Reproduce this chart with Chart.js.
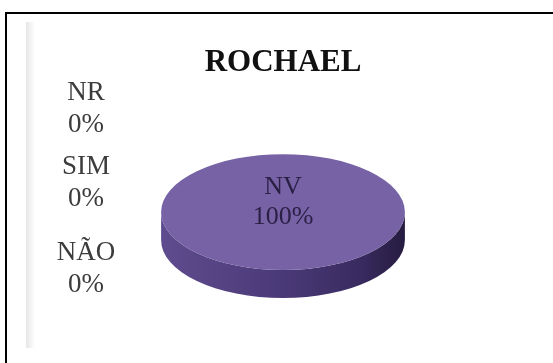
<!DOCTYPE html>
<html>
<head>
<meta charset="utf-8">
<script src="https://cdn.jsdelivr.net/npm/chart.js@4"></script>
<style>
  html, body { margin: 0; padding: 0; background: #fff; }
  #wrap { position: relative; width: 553px; height: 363px; overflow: hidden; }
  #frame { position: absolute; left: 5px; top: 12px; right: -4px; bottom: -4px;
           border-left: 2px solid #000; border-top: 2px solid #000; }
  #strip { position: absolute; left: 26px; top: 22px; width: 9px; height: 326px;
           background: linear-gradient(to right, #e6e6e6, #ffffff); }
  #myChart { position: absolute; left: 0; top: 0; }
</style>
</head>
<body>
<div id="wrap">
  <div id="frame"></div>
  <div id="strip"></div>
  <canvas id="myChart" width="553" height="363"></canvas>
</div>
<script>
let labels = ['NÃO', 'SIM', 'NR', 'NV'];
let values = [0, 0, 0, 100];
let colorHex = ['#4F81BD', '#C0504D', '#9BBB59', '#7662A5'];

let TILT = 0.475;   // vertical squash of the disc
let DEPTH = 28;     // thickness of the disc side

// 3D look: draw the side band, then squash the arcs
let pie3d = {
  id: 'pie3d',
  beforeDatasetsDraw(chart) {
    let arc = chart.getDatasetMeta(0).data[0];
    let cx = arc.x, cy = arc.y, rx = arc.outerRadius, ry = rx * TILT;
    let ctx = chart.ctx;
    ctx.save();
    let g = ctx.createLinearGradient(cx - rx, 0, cx + rx, 0);
    g.addColorStop(0, '#5f4c8e');
    g.addColorStop(0.45, '#4c3b7a');
    g.addColorStop(0.8, '#3a2c62');
    g.addColorStop(1, '#261c40');
    ctx.beginPath();
    ctx.moveTo(cx + rx, cy);
    ctx.lineTo(cx + rx, cy + DEPTH);
    ctx.ellipse(cx, cy + DEPTH, rx, ry, 0, 0, Math.PI);
    ctx.lineTo(cx - rx, cy);
    ctx.ellipse(cx, cy, rx, ry, 0, Math.PI, 0, true);
    ctx.closePath();
    ctx.fillStyle = g;
    ctx.fill();
    ctx.translate(cx, cy);
    ctx.scale(1, TILT);
    ctx.translate(-cx, -cy);
  },
  afterDatasetsDraw(chart) {
    chart.ctx.restore();
  }
};

// data labels: zero slices stacked on the left, the rest on the disc
let pieLabels = {
  id: 'pieLabels',
  afterDraw(chart) {
    let ctx = chart.ctx;
    let arc = chart.getDatasetMeta(0).data[0];
    let total = values.reduce((a, b) => a + b, 0);
    let leftY = { 'NR': 93, 'SIM': 167, 'NÃO': 253 };
    ctx.save();
    ctx.textAlign = 'center';
    ctx.textBaseline = 'middle';
    labels.forEach((lab, i) => {
      let pct = Math.round(values[i] / total * 100) + '%';
      if (values[i] === 0) {
        ctx.font = '27px "Liberation Serif"';
        ctx.fillStyle = '#3c3c3c';
        ctx.fillText(lab, 86, leftY[lab]);
        ctx.fillText(pct, 86, leftY[lab] + 32);
      } else {
        ctx.font = '26px "Liberation Serif"';
        ctx.fillStyle = '#2a1f45';
        ctx.fillText(lab, arc.x, arc.y - 25);
        ctx.fillText(pct, arc.x, arc.y + 5);
      }
    });
    ctx.restore();
  }
};

let ctx = document.getElementById('myChart').getContext('2d');
let myChart = new Chart(ctx, {
  type: 'pie',
  data: {
    labels: labels,
    datasets: [{
      data: values,
      backgroundColor: colorHex,
      borderWidth: 0,
      hoverOffset: 0,
      offset: 0,
      clip: false
    }]
  },
  options: {
    responsive: false,
    animation: false,
    events: [],
    layout: {
      padding: { left: 161, right: 148, top: 36, bottom: 29 }
    },
    plugins: {
      legend: { display: false },
      tooltip: { enabled: false },
      title: {
        display: true,
        text: 'ROCHAEL',
        color: '#111',
        font: { family: 'Liberation Serif', size: 31, weight: 'bold' },
        padding: { top: 8, bottom: 9 }
      }
    }
  },
  plugins: [pie3d, pieLabels]
});
</script>
</body>
</html>
